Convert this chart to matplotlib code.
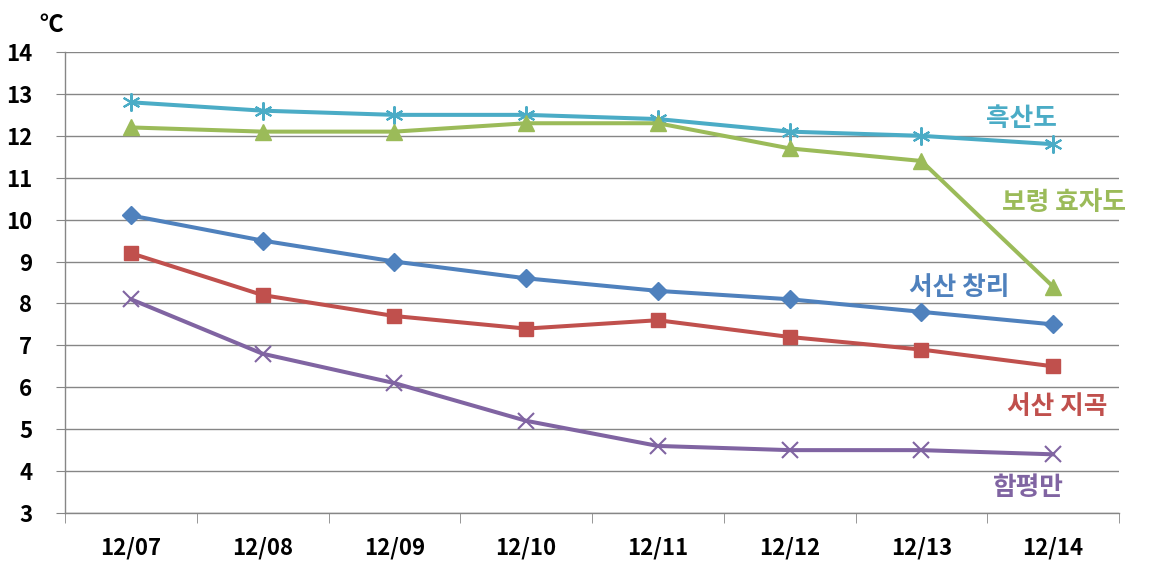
import matplotlib
matplotlib.use("Agg")
import matplotlib.pyplot as plt

dates = ["12/07", "12/08", "12/09", "12/10", "12/11", "12/12", "12/13", "12/14"]
heuksando = [12.8, 12.6, 12.5, 12.5, 12.4, 12.1, 12.0, 11.8]
boryeong = [12.2, 12.1, 12.1, 12.3, 12.3, 11.7, 11.4, 8.4]
changri = [10.1, 9.5, 9.0, 8.6, 8.3, 8.1, 7.8, 7.5]
jigok = [9.2, 8.2, 7.7, 7.4, 7.6, 7.2, 6.9, 6.5]
hampyeong = [8.1, 6.8, 6.1, 5.2, 4.6, 4.5, 4.5, 4.4]
yticks = list(range(3, 15))

plt.rcParams['font.family'] = ['Noto Sans CJK KR', 'DejaVu Sans']

fig = plt.figure(figsize=(11.72, 5.74), dpi=100)
ax = fig.add_axes([65/1172, 61/574, 1054/1172, 461/574])

x = list(range(len(dates)))
series = [
    (heuksando, "#4BACC6", dict(marker=(6, 2, 0), markersize=13, markeredgewidth=1.5), "흑산도", (6.76, 12.42)),
    (boryeong, "#9BBB59", dict(marker="^", markersize=11), "보령 효자도", (7.08, 10.4)),
    (changri, "#4F81BD", dict(marker="D", markersize=9), "서산 창리", (6.29, 8.37)),
    (jigok, "#C0504D", dict(marker="s", markersize=10), "서산 지곡", (7.03, 5.53)),
    (hampyeong, "#8064A2", dict(marker="x", markersize=11, markeredgewidth=1.5), "함평만", (6.81, 3.6)),
]
for vals, col, mk, name, pos in series:
    ax.plot(x, vals, color=col, linewidth=2.9, markerfacecolor=col, markeredgecolor=col, zorder=3, **mk)
    ax.text(pos[0], pos[1], name, color=col, fontsize=18.5, fontweight="bold",
            ha="center", va="center", zorder=4)

ax.set_xlim(-0.5, 7.5)
ax.set_ylim(3, 14)
ax.set_yticks(yticks)
ax.set_yticklabels([str(t) for t in yticks], fontsize=16, fontweight="bold")
ax.yaxis.grid(True, color="#868686", linewidth=1.0)
ax.set_axisbelow(True)

ax.set_xticks(x)
ax.set_xticklabels(dates, fontsize=16, fontweight="bold")
ax.set_xticks([i - 0.5 for i in range(len(dates) + 1)], minor=True)
ax.tick_params(axis="x", which="major", length=0, pad=17)
ax.tick_params(axis="x", which="minor", length=7, color="#868686", direction="out")
ax.tick_params(axis="y", length=6.5, color="#868686", pad=17, direction="out")

for s in ["top", "right"]:
    ax.spines[s].set_visible(False)
for s in ["left", "bottom"]:
    ax.spines[s].set_color("#868686")
    ax.spines[s].set_linewidth(1.0)

fig.text(51/1172, 1 - 25/574, "℃", fontsize=17, fontweight="bold", ha="center", va="center")

fig.savefig("out.png", dpi=100)
